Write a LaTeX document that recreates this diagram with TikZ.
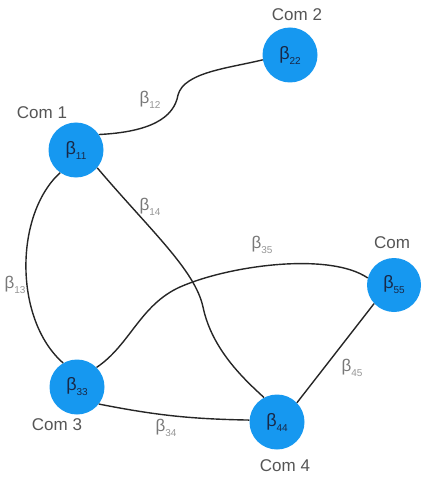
\documentclass[tikz,border=0pt]{standalone}
\usepackage{fontspec}
\setmainfont{Liberation Sans}
\definecolor{nodeblue}{RGB}{22,152,240}
\definecolor{comgray}{RGB}{85,85,85}
\definecolor{lblgray}{RGB}{120,120,120}
\definecolor{subgray}{RGB}{150,150,150}
\definecolor{nodetext}{RGB}{25,40,70}
\newcommand{\nb}[1]{\fontsize{18}{20}\selectfont β\raisebox{-5pt}{\fontsize{10}{11}\selectfont #1}}
\newcommand{\eb}[1]{\fontsize{17}{20}\selectfont β\raisebox{-5pt}{\fontsize{10}{11}\selectfont\color{subgray}#1}}
\tikzset{
  com/.style={circle, fill=nodeblue, minimum size=55pt, inner sep=0pt, text=nodetext},
  comlbl/.style={text=comgray, font=\fontsize{17}{20}\selectfont, inner sep=0pt},
  elbl/.style={text=lblgray, inner sep=0pt},
  link/.style={draw=black!85, line width=1.4pt}
}
\begin{document}
\begin{tikzpicture}[x=1pt,y=1pt]
\useasboundingbox (0,0) rectangle (421,-481);
\node[com] (b11) at (76,-150) {\nb{11}};
\node[com] (b22) at (290,-55) {\nb{22}};
\node[com] (b33) at (77,-387) {\nb{33}};
\node[com] (b44) at (277,-422) {\nb{44}};
\node[com, minimum size=54pt] (b55) at (394,-285) {\nb{55}};

\node[comlbl] (l1) at (42,-113) {Com 1};
\node[comlbl] (l2) at (297,-15) {Com 2};
\node[comlbl] (l3) at (57,-425) {Com 3};
\node[comlbl] (l4) at (285,-466) {Com 4};
\node[comlbl] (l5) at (392,-243) {Com};

\draw[link] (b11.34) .. controls (150,-132) and (174,-118) .. (178,-95)
  .. controls (184,-72) and (230,-68) .. (b22.190);
\draw[link] (b11.235) .. controls (14,-215) and (14,-320) .. (b33.120);
\draw[link] (b11.-40) .. controls (150,-230) and (195,-270) .. (203,-307)
  .. controls (212,-350) and (245,-380) .. (b44.118);
\draw[link] (b33.45) .. controls (130,-345) and (140,-305) .. (180,-287)
  .. controls (230,-265) and (330,-252) .. (b55.165);
\draw[link] (b33.-38) to[bend right=5] (b44.176);
\draw[link] (b44.44) -- (b55.223);

\node[elbl] (e12) at (150,-100) {\eb{12}};
\node[elbl] (e14) at (150,-207) {\eb{14}};
\node[elbl] (e13) at (15,-285) {\eb{13}};
\node[elbl] (e35) at (262,-245) {\eb{35}};
\node[elbl] (e45) at (352,-368) {\eb{45}};
\node[elbl] (e34) at (166,-428) {\eb{34}};
\end{tikzpicture}
\end{document}
